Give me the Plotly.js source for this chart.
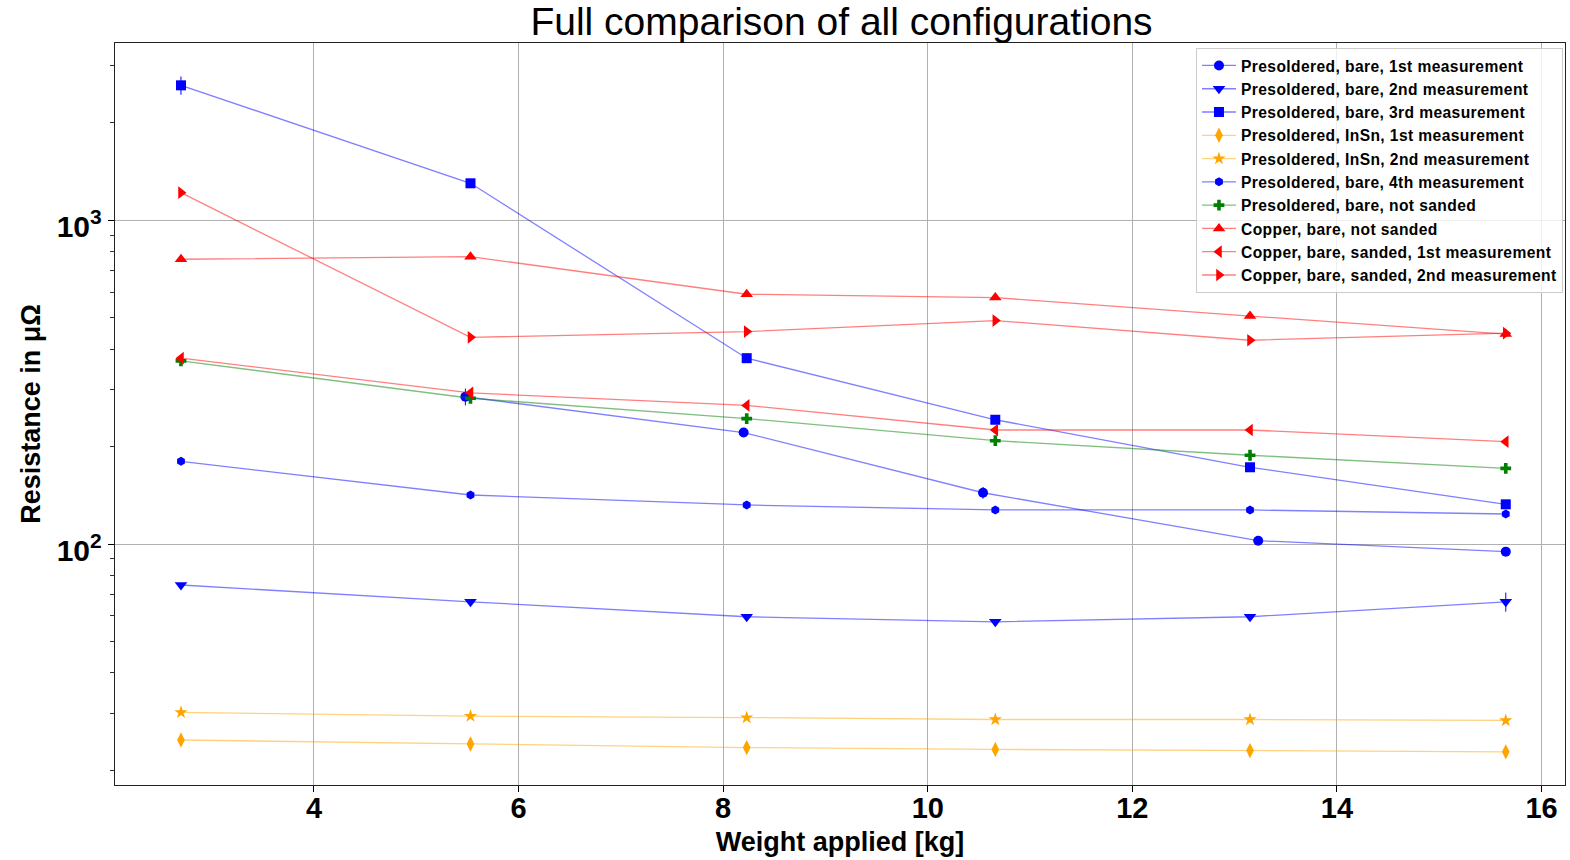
<!DOCTYPE html>
<html>
<head>
<meta charset="utf-8">
<script src="https://cdn.plot.ly/plotly-3.0.1.min.js"></script>
<style>html,body{margin:0;padding:0;background:#fff;}#chart{width:1570px;height:860px;}.legendtext{letter-spacing:0.4px;}</style>
</head>
<body>
<div id="chart"></div>
<script>
// Weight applied [kg]
const weights = [2.70, 5.53, 8.23, 10.66, 13.15, 15.65];
const weights1st = [5.48, 8.20, 10.54, 13.23, 15.65];

// Resistance in µΩ
const bare1 = [285, 221, 144, 102.4, 94.7];
const bare2 = [74.7, 66.3, 59.6, 57.5, 59.6, 66.3];
const bare3 = [2612, 1301, 375, 242, 172.6, 132.6];
const insn1 = [24.8, 24.1, 23.5, 23.2, 23.0, 22.8];
const insn2 = [30.2, 29.4, 29.1, 28.7, 28.7, 28.5];
const bare4 = [180, 141.7, 132, 127.4, 127.4, 123.8];
const bareNotSanded = [368, 282, 244, 208.5, 188, 171.3];
const copperNotSanded = [758, 772, 591, 577, 506, 445];
const copperSanded1 = [375, 293, 268, 225, 225, 207];
const copperSanded2 = [1217, 435, 453, 490, 426, 448];

// Measurement uncertainty
const bare1Err = [17, 4, 6, 2, 2];
const bare2Err = [0.8, 0.8, 0.6, 0.6, 0.6, 4.5];
const bare3Err = [170, 15, 4, 3, 2, 2];
const insn1Err = [0.2, 0.2, 0.2, 0.2, 0.2, 0.2];
const insn2Err = [0.2, 0.2, 0.2, 0.2, 0.2, 0.2];
const bare4Err = [1, 1, 1, 1, 1, 1];
const bareNotSandedErr = [3, 3, 2, 2, 2, 2];
const copperNotSandedErr = [6, 6, 5, 5, 4, 4];
const copperSanded1Err = [3, 3, 2, 2, 2, 2];
const copperSanded2Err = [10, 4, 4, 4, 4, 4];

const labels = [
  'Presoldered, bare, 1st measurement',
  'Presoldered, bare, 2nd measurement',
  'Presoldered, bare, 3rd measurement',
  'Presoldered, InSn, 1st measurement',
  'Presoldered, InSn, 2nd measurement',
  'Presoldered, bare, 4th measurement',
  'Presoldered, bare, not sanded',
  'Copper, bare, not sanded',
  'Copper, bare, sanded, 1st measurement',
  'Copper, bare, sanded, 2nd measurement'
];

const specs = [
  {x: weights1st, y: bare1, e: bare1Err, c: '0,0,255', sym: 'circle', size: 10},
  {x: weights, y: bare2, e: bare2Err, c: '0,0,255', sym: 'triangle-down', size: 11},
  {x: weights, y: bare3, e: bare3Err, c: '0,0,255', sym: 'square', size: 10},
  {x: weights, y: insn1, e: insn1Err, c: '255,165,0', sym: 'diamond-tall', size: 11},
  {x: weights, y: insn2, e: insn2Err, c: '255,165,0', sym: 'star', size: 10},
  {x: weights, y: bare4, e: bare4Err, c: '0,0,255', sym: 'hexagon', size: 9},
  {x: weights, y: bareNotSanded, e: bareNotSandedErr, c: '0,128,0', sym: 'cross', size: 9},
  {x: weights, y: copperNotSanded, e: copperNotSandedErr, c: '255,0,0', sym: 'triangle-up', size: 11},
  {x: weights, y: copperSanded1, e: copperSanded1Err, c: '255,0,0', sym: 'triangle-left', size: 11},
  {x: weights, y: copperSanded2, e: copperSanded2Err, c: '255,0,0', sym: 'triangle-right', size: 11}
];

const traces = specs.map((s, i) => ({
  type: 'scatter',
  mode: 'lines+markers',
  name: labels[i],
  x: s.x,
  y: s.y,
  error_y: {type: 'data', array: s.e, visible: true, color: 'rgb(' + s.c + ')', thickness: 1, width: 0},
  line: {color: 'rgba(' + s.c + ',0.5)', width: 1.3},
  marker: {color: 'rgb(' + s.c + ')', symbol: s.sym, size: s.size, line: {width: 0}}
}));

const minorY = [];
[10, 100, 1000].forEach(d => { for (let k = 2; k <= 9; k++) { if (d * k > 17 && d * k < 3600) minorY.push(d * k); } });

const fontFam = 'Liberation Sans, Arial, Helvetica, sans-serif';

const layout = {
  width: 1570, height: 860,
  margin: {l: 115, r: 5, t: 43, b: 75},
  paper_bgcolor: '#fff', plot_bgcolor: '#fff',
  title: {text: 'Full comparison of all configurations', font: {family: fontFam, size: 39, color: '#000'}, x: 0.536, xanchor: 'center', y: 0.975, yanchor: 'middle'},
  showlegend: true,
  legend: {
    x: 0.9986, xanchor: 'right', y: 0.9935, yanchor: 'top',
    bgcolor: 'rgba(255,255,255,0.8)', bordercolor: '#cccccc', borderwidth: 1,
    font: {family: fontFam, size: 15.6, color: '#000', weight: 'bold'},
    itemwidth: 34
  },
  xaxis: {
    range: [2.055, 16.229],
    tickvals: [4, 6, 8, 10, 12, 14, 16],
    ticktext: ['4', '6', '8', '10', '12', '14', '16'],
    ticks: 'outside', ticklen: 6, tickwidth: 1, tickcolor: '#000',
    ticklabelstandoff: -9,
    tickfont: {family: fontFam, size: 29, color: '#000', weight: 'bold'},
    showgrid: true, gridcolor: '#b0b0b0', gridwidth: 1,
    showline: true, linecolor: '#222', linewidth: 1.3, mirror: true,
    zeroline: false,
    title: {text: 'Weight applied [kg]', font: {family: fontFam, size: 27, color: '#000', weight: 'bold'}, standoff: 9},
    automargin: false
  },
  yaxis: {
    type: 'log',
    range: [1.2555, 3.5477],
    tickvals: [100, 1000],
    ticktext: ['10<sup>2</sup>', '10<sup>3</sup>'],
    ticks: 'outside', ticklen: 6, tickwidth: 1, tickcolor: '#000',
    ticklabelshift: 6,
    tickfont: {family: fontFam, size: 30, color: '#000', weight: 'bold'},
    minor: {tickvals: minorY, ticks: 'outside', ticklen: 3.5, tickwidth: 0.8, tickcolor: '#000', showgrid: false},
    showgrid: true, gridcolor: '#b0b0b0', gridwidth: 1,
    showline: true, linecolor: '#222', linewidth: 1.3, mirror: true,
    zeroline: false,
    title: {text: 'Resistance in μΩ', font: {family: fontFam, size: 27, color: '#000', weight: 'bold'}, standoff: 8},
    automargin: false
  }
};

Plotly.newPlot('chart', traces, layout, {displayModeBar: false, staticPlot: true});
</script>
</body>
</html>
